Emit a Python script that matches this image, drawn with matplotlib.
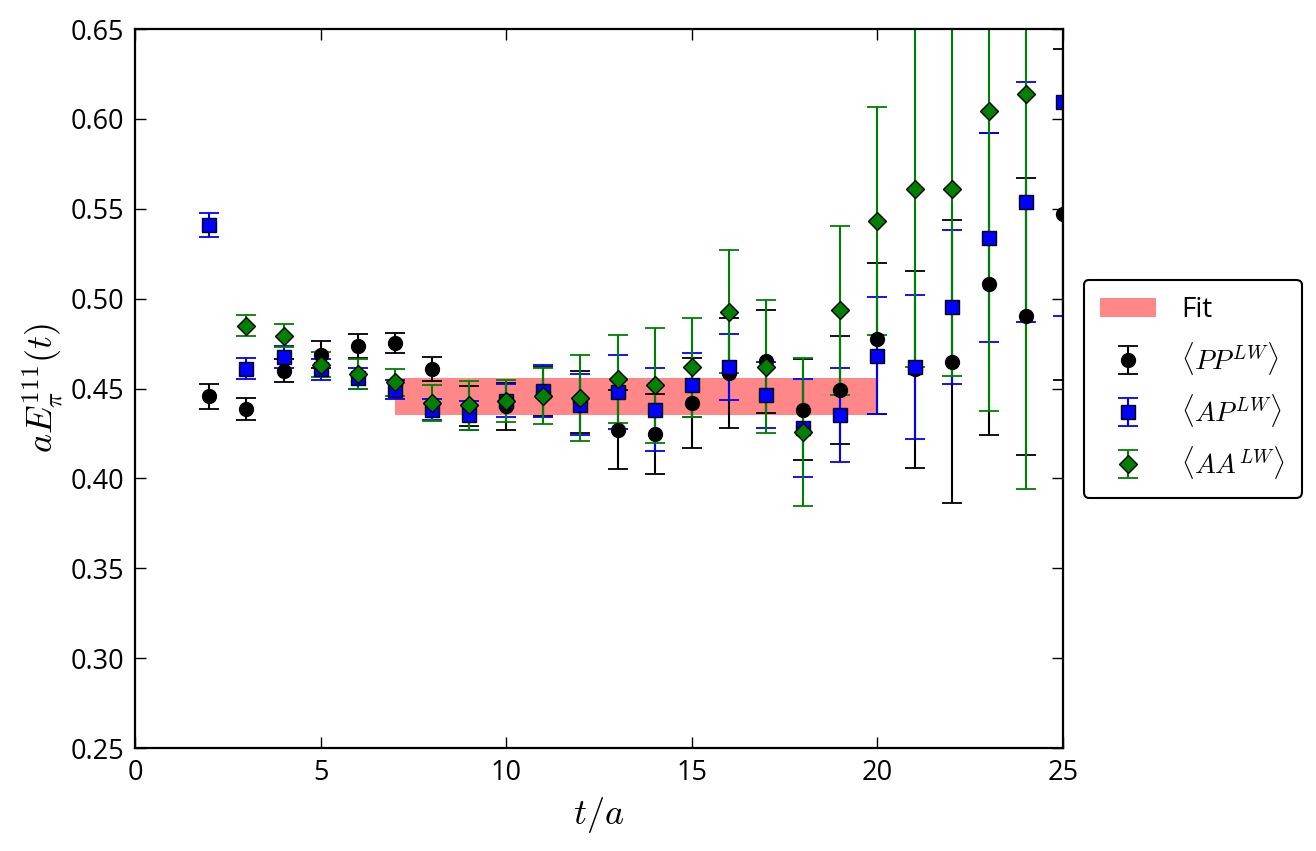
import numpy as np
import matplotlib
matplotlib.use("Agg")
import matplotlib.pyplot as plt

plt.rcParams['font.family'] = ['Open Sans', 'DejaVu Sans']
plt.rcParams['mathtext.fontset'] = 'cm'

# datos
t_pp = list(range(2, 26))
pp = [0.4457, 0.4387, 0.4600, 0.4689, 0.4735, 0.4752, 0.4611, 0.4402, 0.4400, 0.4483,
      0.4427, 0.4272, 0.4248, 0.4419, 0.4585, 0.4652, 0.4383, 0.4494, 0.4778, 0.4606,
      0.4648, 0.5079, 0.4902, 0.5470]
pp_err = [0.0070, 0.0060, 0.0065, 0.0076, 0.0067, 0.0055, 0.0067, 0.0110, 0.0130, 0.0134,
          0.0173, 0.0222, 0.0222, 0.0250, 0.0306, 0.0286, 0.0280, 0.0300, 0.0418, 0.0550,
          0.0787, 0.0840, 0.0770, 0.0920]

t_ap = list(range(2, 26))
ap = [0.5411, 0.4611, 0.4676, 0.4606, 0.4556, 0.4494, 0.4383, 0.4350, 0.4433, 0.4485,
      0.4411, 0.4480, 0.4383, 0.4519, 0.4619, 0.4465, 0.4281, 0.4352, 0.4683, 0.4619,
      0.4954, 0.5340, 0.5537, 0.6096]
ap_err = [0.0067, 0.0057, 0.0060, 0.0056, 0.0060, 0.0052, 0.0060, 0.0083, 0.0090, 0.0145,
          0.0168, 0.0206, 0.0230, 0.0177, 0.0185, 0.0185, 0.0273, 0.0260, 0.0325, 0.0400,
          0.0427, 0.0583, 0.0667, 0.1194]

t_aa = list(range(3, 25))
aa = [0.4850, 0.4794, 0.4633, 0.4581, 0.4535, 0.4417, 0.4406, 0.4430, 0.4457, 0.4448,
      0.4554, 0.4519, 0.4617, 0.4928, 0.4620, 0.4259, 0.4935, 0.5433, 0.5611, 0.5611,
      0.6044, 0.6139]
aa_err = [0.0060, 0.0063, 0.0068, 0.0085, 0.0074, 0.0100, 0.0135, 0.0117, 0.0155, 0.0240,
          0.0246, 0.0320, 0.0276, 0.0340, 0.0370, 0.0410, 0.0470, 0.0635, 0.0990, 0.1040,
          0.1670, 0.2196]

# resultado del ajuste
fit_t = [7, 20]
fit_val = 0.4456
fit_err = 0.0102

fig = plt.figure(figsize=(13.16, 8.51), dpi=100)
ax = fig.add_axes([0.1026, 0.1210, 0.7052, 0.8449])

ax.fill_between(fit_t, fit_val - fit_err, fit_val + fit_err, color='red', alpha=0.47,
                linewidth=0, label='Fit')

ax.errorbar(t_pp, pp, yerr=pp_err, fmt='o', color='k', mfc='k', mec='k', ms=10,
            capsize=7, elinewidth=1.5, capthick=1.3, label=r'$\langle PP^{LW}\rangle$')
ax.errorbar(t_ap, ap, yerr=ap_err, fmt='s', color='b', mfc='b', mec='k', ms=9.5,
            capsize=7, elinewidth=1.5, capthick=1.3, label=r'$\langle AP^{LW}\rangle$')
ax.errorbar(t_aa, aa, yerr=aa_err, fmt='D', color='g', mfc='g', mec='k', ms=9,
            capsize=7, elinewidth=1.5, capthick=1.3, label=r'$\langle AA^{LW}\rangle$')

ax.set_xlim(0, 25)
ax.set_ylim(0.25, 0.65)
ax.set_xticks([0, 5, 10, 15, 20, 25])
ax.set_yticks(np.arange(0.25, 0.651, 0.05))
ax.yaxis.set_major_formatter(plt.FormatStrFormatter('%.2f'))
ax.tick_params(direction='in', top=True, right=True, length=8, width=1, labelsize=19.5, pad=8)
for s in ax.spines.values():
    s.set_linewidth(1.6)

ax.set_xlabel(r'$t/a$', fontsize=26, labelpad=6)
ax.set_ylabel(r'$aE_\pi^{111}(t)$', fontsize=26, labelpad=4)

leg = fig.legend(loc='center left', bbox_to_anchor=(0.813, 0.543), fontsize=20,
                 numpoints=1, fancybox=True, framealpha=1, edgecolor='k',
                 handlelength=2.0, handletextpad=0.9, borderpad=0.6, labelspacing=0.55)
leg.get_frame().set_linewidth(1.5)

plt.savefig('out.png', dpi=100)
